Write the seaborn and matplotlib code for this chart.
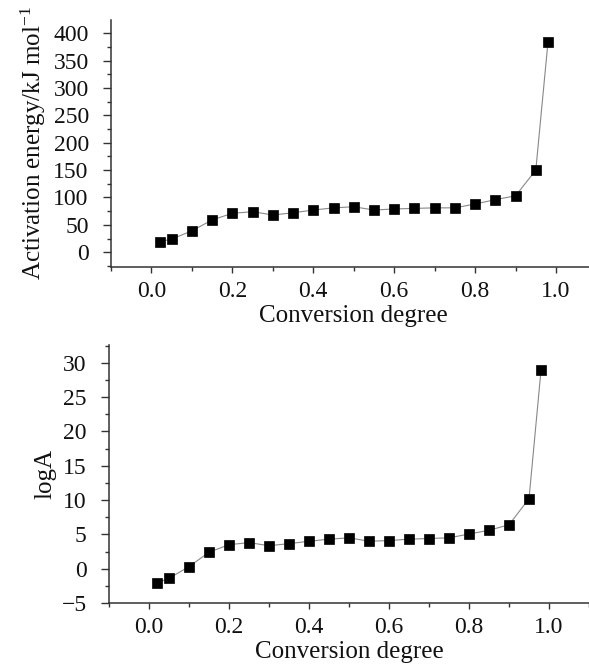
import matplotlib
matplotlib.use("Agg")
import matplotlib.pyplot as plt
import seaborn as sns
import pandas as pd
from matplotlib.ticker import MultipleLocator

conversion = [0.02, 0.05, 0.10, 0.15, 0.20, 0.25, 0.30, 0.35, 0.40, 0.45, 0.50,
              0.55, 0.60, 0.65, 0.70, 0.75, 0.80, 0.85, 0.90, 0.95, 0.98]
activation_energy = [19, 24, 39, 59, 71, 74, 68, 72, 77, 81, 83,
                     77, 79, 80, 81, 81, 88, 96, 103, 150, 383]
log_a = [-2.1, -1.4, 0.3, 2.4, 3.5, 3.8, 3.35, 3.65, 4.0, 4.3, 4.5,
         4.0, 4.1, 4.3, 4.4, 4.5, 5.05, 5.6, 6.4, 10.2, 28.9]

df = pd.DataFrame({"conversion": conversion, "E": activation_energy, "logA": log_a})

sns.set_theme(style="ticks")
plt.rcParams["font.family"] = ["Liberation Serif", "DejaVu Serif"]
plt.rcParams["mathtext.fontset"] = "custom"
plt.rcParams["mathtext.rm"] = "Liberation Serif"
plt.rcParams["mathtext.it"] = "Liberation Serif:italic"

fig = plt.figure(figsize=(5.89, 6.64), dpi=100)
W, H = 589, 664
ax1 = fig.add_axes([111 / W, 1 - 267 / H, (596.5 - 111) / W, (267 - 20) / H])
ax2 = fig.add_axes([109 / W, 1 - 603 / H, (589 - 109) / W, (603 - 345) / H])

spine_c = "#333333"
txt_c = "#111111"
for ax, col, ylab in [(ax1, "E", r"Activation energy/kJ mol$^{-1}$"), (ax2, "logA", "logA")]:
    sns.lineplot(data=df, x="conversion", y=col, ax=ax, color="#888888", linewidth=0.8,
                 marker="s", markersize=6.5, markerfacecolor="black", markeredgecolor="black",
                 markeredgewidth=0.5)
    for s in ["top", "right"]:
        ax.spines[s].set_visible(False)
    for s in ["left", "bottom"]:
        ax.spines[s].set_color(spine_c)
        ax.spines[s].set_linewidth(1.1)
    ax.xaxis.set_major_locator(MultipleLocator(0.2))
    ax.xaxis.set_minor_locator(MultipleLocator(0.1))
    ax.xaxis.set_major_formatter(matplotlib.ticker.FormatStrFormatter("%.1f"))
    ax.tick_params(axis="x", which="major", length=4, width=1, color=spine_c,
                   labelsize=17, pad=6, labelcolor=txt_c)
    ax.tick_params(axis="x", which="minor", length=3, width=1, color=spine_c)
    ax.tick_params(axis="y", which="major", length=6, width=1, color=spine_c,
                   labelsize=17, pad=10, labelcolor=txt_c)
    ax.tick_params(axis="y", which="minor", length=3, width=1, color=spine_c)
    ax.set_xlabel("Conversion degree", fontsize=18, color=txt_c, labelpad=2)
    ax.set_ylabel(ylab, fontsize=18, color=txt_c, labelpad=4)

ax1.set_xlim(-0.1, 1.1)
ax1.set_ylim(-27, 424)
ax1.yaxis.set_major_locator(MultipleLocator(50))
ax1.yaxis.set_minor_locator(MultipleLocator(25))

ax2.set_xlim(-0.1, 1.1)
ax2.set_ylim(-5, 32.6)
ax2.yaxis.set_major_locator(MultipleLocator(5))
ax2.yaxis.set_minor_locator(MultipleLocator(2.5))
ax2.set_yticks([-5, 0, 5, 10, 15, 20, 25, 30])
ax2.set_yticklabels(["\u22125", "0", "5", "10", "15", "20", "25", "30"])

fig.savefig("out.png", dpi=100)
